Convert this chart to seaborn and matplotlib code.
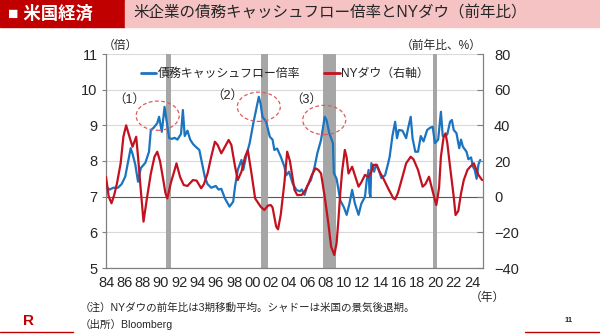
import numpy as np
import pandas as pd
import matplotlib
matplotlib.use("Agg")
import matplotlib.pyplot as plt
import seaborn as sns
from matplotlib.patches import Ellipse, Rectangle
from matplotlib.lines import Line2D

# ---------------- data ----------------
blue_years = [1984.0, 1984.4, 1984.8, 1985.3, 1985.7, 1986.1, 1986.5, 1986.7, 1986.9, 1987.2,
              1987.5, 1987.8, 1988.3, 1988.7, 1988.9, 1989.2, 1989.6, 1989.8, 1990.1, 1990.4,
              1990.9, 1991.2, 1991.5, 1991.8, 1992.2, 1992.4, 1992.6, 1992.9, 1993.2, 1993.5,
              1993.8, 1994.2, 1994.5, 1994.8, 1995.1, 1995.5, 1996.0, 1996.3, 1996.6, 1997.0,
              1997.5, 1997.9, 1998.1, 1998.4, 1998.8, 1999.0, 1999.3, 1999.7, 2000.1, 2000.4,
              2000.7, 2000.9, 2001.1, 2001.5, 2001.9, 2002.2, 2002.4, 2002.7, 2003.1, 2003.5,
              2003.7, 2004.0, 2004.4, 2004.8, 2005.2, 2005.4, 2005.7, 2006.0, 2006.4, 2006.8,
              2007.1, 2007.5, 2007.9, 2008.1, 2008.4, 2008.8, 2008.9, 2009.2, 2009.6, 2010.0,
              2010.3, 2010.6, 2010.9, 2011.2, 2011.6, 2011.9, 2012.3, 2012.5, 2012.7, 2012.8,
              2012.9, 2013.0, 2013.3, 2013.5, 2013.8, 2014.1, 2014.5, 2014.8, 2015.0, 2015.3,
              2015.6, 2015.8, 2016.0, 2016.4, 2016.8, 2017.0, 2017.3, 2017.5, 2017.8, 2018.1,
              2018.4, 2018.7, 2019.1, 2019.4, 2019.7, 2019.95, 2020.3, 2020.6, 2020.8, 2021.1,
              2021.3, 2021.6, 2021.8, 2022.0, 2022.3, 2022.6, 2022.8, 2023.0, 2023.4, 2023.6,
              2023.9, 2024.1, 2024.3, 2024.5, 2024.7, 2024.9]
blue_vals = [7.28, 7.20, 7.25, 7.25, 7.35, 7.56, 8.10, 8.36, 8.20, 7.90,
             7.42, 7.80, 7.95, 8.26, 8.87, 8.93, 9.06, 9.24, 8.82, 9.52,
             8.64, 8.62, 8.65, 8.60, 8.76, 9.43, 8.70, 8.85, 8.60, 8.48,
             8.40, 8.31, 7.93, 7.55, 7.35, 7.25, 7.30, 7.20, 7.22, 6.95,
             6.72, 6.86, 7.28, 7.75, 8.03, 7.75, 8.12, 8.50, 9.06, 9.43,
             9.80, 9.60, 9.24, 9.10, 8.68, 8.60, 8.31, 8.35, 8.12, 7.84,
             7.60, 7.70, 7.37, 7.19, 7.15, 7.20, 7.05, 7.30, 7.47, 7.84,
             8.22, 8.59, 9.24, 9.15, 8.78, 8.50, 7.66, 7.50, 6.90, 6.70,
             6.49, 6.80, 7.19, 6.81, 6.49, 6.80, 7.00, 7.47, 7.75, 7.10,
             7.00, 7.94, 7.70, 7.90, 7.75, 7.52, 7.60, 7.90, 8.12, 8.70,
             9.10, 8.64, 8.87, 8.85, 8.64, 8.90, 9.24, 8.64, 8.26, 8.26,
             8.70, 8.55, 8.87, 8.93, 8.96, 8.50, 8.60, 9.38, 8.70, 8.70,
             8.75, 9.10, 9.15, 8.87, 8.78, 8.36, 8.60, 8.40, 8.26, 8.05,
             8.10, 7.84, 7.75, 7.50, 7.90, 8.03]

red_years = [1984.0, 1984.3, 1984.6, 1984.9, 1985.2, 1985.6, 1985.9, 1986.2, 1986.6, 1986.9,
             1987.3, 1987.5, 1987.8, 1988.1, 1988.5, 1988.9, 1989.3, 1989.6, 1989.9, 1990.2,
             1990.5, 1990.7, 1991.1, 1991.5, 1991.7, 1992.1, 1992.5, 1992.9, 1993.5, 1993.9,
             1994.4, 1994.7, 1995.1, 1995.5, 1995.9, 1996.2, 1996.6, 1997.0, 1997.4, 1997.7,
             1998.1, 1998.4, 1998.8, 1999.2, 1999.5, 1999.9, 2000.3, 2000.9, 2001.3, 2001.7,
             2002.0, 2002.2, 2002.6, 2002.8, 2003.1, 2003.5, 2003.8, 2004.1, 2004.6, 2004.9,
             2005.4, 2005.8, 2006.1, 2006.5, 2006.9, 2007.2, 2007.5, 2007.9, 2008.3, 2008.6,
             2008.95, 2009.2, 2009.4, 2009.6, 2009.8, 2010.1, 2010.3, 2010.5, 2010.9, 2011.2,
             2011.6, 2011.9, 2012.3, 2012.7, 2013.0, 2013.2, 2013.6, 2013.9, 2014.3, 2014.8,
             2015.4, 2015.6, 2015.9, 2016.3, 2016.8, 2017.3, 2017.6, 2018.1, 2018.6, 2018.9,
             2019.3, 2019.6, 2019.9, 2020.1, 2020.4, 2020.6, 2020.9, 2021.1, 2021.3, 2021.6,
             2022.0, 2022.2, 2022.5, 2022.8, 2023.1, 2023.5, 2023.8, 2024.2, 2024.4, 2024.7,
             2025.1]
red_vals = [11.0, 0.0, -3.7, 1.0, 7.5, 18.7, 33.6, 40.0, 33.0, 28.0,
            33.6, 22.4, 3.8, -14.0, 0.0, 13.0, 22.4, 25.2, 20.0, 11.2,
            1.9, -1.0, 8.0, 15.0, 18.7, 11.0, 6.5, 6.0, 9.3, 9.0,
            4.7, 7.0, 13.0, 22.4, 30.8, 29.0, 24.3, 28.0, 31.8, 29.0,
            17.0, 9.3, 14.0, 22.4, 26.0, 13.0, -1.0, -5.6, -7.5, -5.0,
            -4.7, -6.0, -16.8, -18.3, -10.0, 8.0, 25.2, 20.0, 3.8, 0.9,
            1.0, 3.8, 7.0, 12.2, 15.9, 15.0, 13.0, 0.0, -15.0, -28.0,
            -32.7, -26.0, -13.0, 1.9, 14.0, 26.2, 22.0, 13.0, 16.8, 12.0,
            5.6, 8.0, 12.2, 11.0, 14.0, 17.8, 17.8, 14.0, 10.3, 5.0,
            -0.9, -1.5, 2.0, 9.3, 18.7, 22.4, 21.0, 15.0, 5.6, 7.0,
            11.2, 5.0, -0.9, -4.7, 5.0, 22.4, 33.6, 35.5, 30.0, 16.8,
            0.0, -10.3, -8.0, 1.9, 9.3, 15.0, 16.8, 18.7, 16.0, 12.2,
            9.3]

recession_start = [1990.55, 2000.95, 2007.7, 2019.75]
recession_end = [1991.1, 2001.7, 2009.1, 2020.2]

left_ticks = [5, 6, 7, 8, 9, 10, 11]
right_ticks = [-40, -20, 0, 20, 40, 60, 80]
x_ticks = list(range(1984, 2025, 2))
x_labels = [f"{y % 100:02d}" for y in x_ticks]

circle_centers = [(1989.65, 9.27), (2000.7, 9.52), (2007.85, 9.15)]
circle_labels = ["（1）", "（2）", "（3）"]
circle_label_pos = [(1986.5, 9.72), (1997.2, 9.84), (2005.9, 9.72)]

series_labels = ["債務キャッシュフロー倍率", "NYダウ（右軸）"]

# ---------------- style ----------------
sns.set_style("white")
plt.rcParams["font.family"] = ["Liberation Sans", "Noto Sans CJK JP"]

BLUE = "#1b74c0"
RED = "#c3121f"
GRAY_SHADE = "#a6a6a6"

fig = plt.figure(figsize=(6, 3.35), dpi=100)
fig.patch.set_facecolor("white")

L, B, R, T = 106 / 600, 1 - 268 / 335, 483 / 600, 1 - 54 / 335
ax = fig.add_axes([L, B, R - L, T - B])
ax2 = ax.twinx()

df_blue = pd.DataFrame({"year": blue_years, "val": blue_vals})
df_red = pd.DataFrame({"year": red_years, "val": red_vals})

for s, e in zip(recession_start, recession_end):
    ax.axvspan(s, e, color=GRAY_SHADE, lw=0, zorder=1.5)

sns.lineplot(data=df_blue, x="year", y="val", ax=ax, color=BLUE, lw=1.6, zorder=3,
             legend=False)
sns.lineplot(data=df_red, x="year", y="val", ax=ax2, color=RED, lw=1.6, zorder=4,
             legend=False)

ax.set_xlim(1984, 2025.2)
ax.set_ylim(5, 11)
ax2.set_ylim(-40, 80)

ax.set_yticks(left_ticks)
ax2.set_yticks(right_ticks)
ax.set_xticks(x_ticks)
ax.set_xticklabels(x_labels)
ax.set_xlabel("")
ax.set_ylabel("")
ax2.set_ylabel("")

ax.grid(axis="y", color="#d9d9d9", lw=0.8, zorder=0)
ax.grid(axis="x", visible=False)
ax.axhline(7, color="#595959", lw=0.8, zorder=1)

for a in (ax, ax2):
    for sp in a.spines.values():
        sp.set_visible(False)
ax.spines["left"].set_visible(True)
ax.spines["bottom"].set_visible(True)
ax2.spines["right"].set_visible(True)
for sp in (ax.spines["left"], ax.spines["bottom"], ax2.spines["right"]):
    sp.set_color("#808080")
    sp.set_linewidth(0.9)

ax.tick_params(axis="x", direction="out", length=4, width=0.8, color="#808080",
               labelsize=10.5, pad=2, labelcolor="#262626")
ax.tick_params(axis="y", direction="out", length=3, width=0.8, color="#808080",
               labelsize=10.5, pad=3, labelcolor="#262626")
ax2.tick_params(axis="y", direction="in", length=4, width=0.8, color="#808080",
                labelsize=10.5, pad=8, labelcolor="#262626")

# dashed circles
for (cx, cy), lab, (lx, ly) in zip(circle_centers, circle_labels, circle_label_pos):
    ax.add_patch(Ellipse((cx, cy), 4.7, 0.82, fill=False, ls=(0, (3, 2)),
                         ec="#e05a5a", lw=0.9, zorder=6))
    ax.text(lx, ly, lab, fontsize=9, ha="center", va="center", color="#262626", zorder=6)

# legend
handles = [Line2D([], [], color=BLUE, lw=2), Line2D([], [], color=RED, lw=2)]
leg = ax2.legend(handles, series_labels, loc="center left",
                 bbox_to_anchor=(0.064, 0.905), ncol=2, frameon=False,
                 handlelength=1.3, handletextpad=0.1, columnspacing=2.0,
                 prop={"size": 8.6, "family": ["Liberation Sans", "Noto Sans CJK JP"]})

# unit labels
fig.text(103 / 600, 1 - 46 / 335, "（倍）", fontsize=8.5, ha="left", va="center",
         color="#262626")
fig.text(482 / 600, 1 - 46 / 335, "（前年比、%）", fontsize=8.5, ha="right", va="center",
         color="#262626")
fig.text(487 / 600, 1 - 298 / 335, "（年）", fontsize=8.5, ha="center", va="center",
         color="#262626")

# header
fig.patches.append(Rectangle((0, 1 - 27 / 335), 125 / 600, 27 / 335,
                             transform=fig.transFigure, color="#c00000", zorder=0))
fig.patches.append(Rectangle((125 / 600, 1 - 27 / 335), 475 / 600, 27 / 335,
                             transform=fig.transFigure, color="#f5c3c3", zorder=0))
fig.text(8 / 600, 1 - 13.5 / 335, "■ 米国経済", fontsize=12.5, color="white",
         fontweight="bold", ha="left", va="center")
fig.text(133 / 600, 1 - 13.5 / 335, "米企業の債務キャッシュフロー倍率とNYダウ（前年比）",
         fontsize=11.2, color="#262626", ha="left", va="center")

# footer
fig.text(80 / 600, 1 - 308 / 335, "（注）NYダウの前年比は3期移動平均。シャドーは米国の景気後退期。",
         fontsize=7.6, color="#262626", ha="left", va="center")
fig.text(80 / 600, 1 - 324 / 335, "（出所）Bloomberg", fontsize=7.6, color="#262626",
         ha="left", va="center")
fig.text(29 / 600, 1 - 321 / 335, "R", fontsize=11, color="#c00000", fontweight="bold",
         ha="center", va="center")
fig.text(569 / 600, 1 - 321 / 335, "11", fontsize=5.5, color="#262626", ha="center",
         va="center", fontweight="bold")
fig.add_artist(Line2D([0, 73 / 600], [1 - 332 / 335] * 2, color="#c00000", lw=1,
                      transform=fig.transFigure))
fig.add_artist(Line2D([525 / 600, 1], [1 - 332 / 335] * 2, color="#c00000", lw=1,
                      transform=fig.transFigure))

fig.savefig("out.png", dpi=100)
